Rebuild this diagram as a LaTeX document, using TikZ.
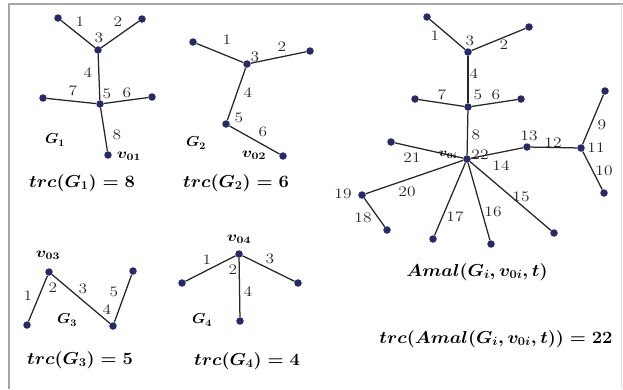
\documentclass[tikz,border=0pt]{standalone}
\usepackage{amsmath}
\definecolor{dotblue}{RGB}{38,42,105}
\newcommand\wx[1]{\scalebox{1.2}[1]{#1}}
\newcommand\wt[1]{\scalebox{1.065}[1]{#1}}
\newcommand\wg[1]{\scalebox{1.05}[1]{#1}}
\begin{document}
\begin{tikzpicture}[x=1pt,y=-1pt,
  vtx/.style={circle,fill=dotblue,inner sep=0pt,minimum size=7.5pt},
  edge/.style={line width=1.25pt,draw=black!85},
  lab/.style={font=\fontsize{14.5}{14.5}\selectfont,inner sep=0pt,text=black!85},
  vname/.style={font=\fontsize{14.4}{14.4}\selectfont\boldmath,inner sep=0pt},
  gname/.style={font=\fontsize{14.4}{14.4}\selectfont\boldmath,inner sep=0pt},
  ttl/.style={font=\fontsize{17.28}{17.28}\selectfont\boldmath,inner sep=0pt}]
\useasboundingbox (0,0) rectangle (623,389);
\fill[white] (0,0) rectangle (623,389);
\draw[gray!70,line width=1.2pt] (9,389) -- (9,4) -- (623,4);
\draw[gray!25,line width=0.8pt] (621,4) -- (621,389);

% ---------- G1 ----------
\node[vtx] (a1) at (58,18) {};
\node[vtx] (a2) at (142,19) {};
\node[vtx] (a3) at (98,50) {};
\node[vtx] (a5) at (100,104) {};
\node[vtx] (a7) at (43,98) {};
\node[vtx] (a6) at (152,97) {};
\node[vtx] (a8) at (108,155) {};
\draw[edge] (a1) -- (a3);
\draw[edge] (a2) -- (a3);
\draw[edge] (a3) -- (a5);
\draw[edge] (a7) -- (a5);
\draw[edge] (a6) -- (a5);
\draw[edge] (a5) -- (a8);
\node[lab] (la1) at (80,22) {\wx{1}};
\node[lab] (la2) at (118,22) {\wx{2}};
\node[lab] (la3) at (99,38) {\wx{3}};
\node[lab] (la4) at (88,73) {\wx{4}};
\node[lab] (la7) at (73,91) {\wx{7}};
\node[lab] (la5) at (107,94) {\wx{5}};
\node[lab] (la6) at (127,93) {\wx{6}};
\node[lab] (la8) at (117,135) {\wx{8}};
\node[gname] (g1) at (55,140) {\wg{$G_1$}};
\node[vname] (v01) at (129,156) {\wx{$v_{01}$}};
\node[ttl] (t1) at (82,183) {\wt{$trc(G_1) = 8$}};

% ---------- G2 ----------
\node[vtx] (b1) at (193,42) {};
\node[vtx] (b3) at (247,64) {};
\node[vtx] (b2) at (310,51) {};
\node[vtx] (b5) at (226,124) {};
\node[vtx] (b6) at (283,156) {};
\draw[edge] (b1) -- (b3);
\draw[edge] (b2) -- (b3);
\draw[edge] (b3) -- (b5);
\draw[edge] (b5) -- (b6);
\node[lab] (lb1) at (227,40) {\wx{1}};
\node[lab] (lb3) at (255,57) {\wx{3}};
\node[lab] (lb2) at (282,47) {\wx{2}};
\node[lab] (lb4) at (248,93) {\wx{4}};
\node[lab] (lb5) at (239,118) {\wx{5}};
\node[lab] (lb6) at (263,132) {\wx{6}};
\node[gname] (g2) at (196,143) {\wg{$G_2$}};
\node[vname] (v02) at (254,155) {\wx{$v_{02}$}};
\node[ttl] (t2) at (236,183) {\wt{$trc(G_2) = 6$}};

% ---------- G3 ----------
\node[vtx] (c2) at (49,272) {};
\node[vtx] (c1) at (27,325) {};
\node[vtx] (c4) at (113,326) {};
\node[vtx] (c5) at (133,271) {};
\draw[edge] (c1) -- (c2);
\draw[edge] (c2) -- (c4);
\draw[edge] (c4) -- (c5);
\node[vname] (v03) at (48,255) {\wx{$v_{03}$}};
\node[lab] (lc1) at (28,296) {\wx{1}};
\node[lab] (lc2) at (53,288) {\wx{2}};
\node[lab] (lc3) at (83,289) {\wx{3}};
\node[lab] (lc5) at (114,292) {\wx{5}};
\node[lab] (lc4) at (107,310) {\wx{4}};
\node[gname] (g3) at (67,320) {\wg{$G_3$}};
\node[ttl] (t3) at (80,360) {\wt{$trc(G_3) = 5$}};

% ---------- G4 ----------
\node[vtx] (d2) at (239,254) {};
\node[vtx] (d1) at (182,283) {};
\node[vtx] (d3) at (298,283) {};
\node[vtx] (d4) at (240,321) {};
\draw[edge] (d1) -- (d2);
\draw[edge] (d3) -- (d2);
\draw[edge] (d2) -- (d4);
\node[vname] (v04) at (239,239) {\wx{$v_{04}$}};
\node[lab] (ld1) at (207,260) {\wx{1}};
\node[lab] (ld2) at (233,270) {\wx{2}};
\node[lab] (ld3) at (270,259) {\wx{3}};
\node[lab] (ld4) at (248,292) {\wx{4}};
\node[gname] (g4) at (202,320) {\wg{$G_4$}};
\node[ttl] (t4) at (247,361) {\wt{$trc(G_4) = 4$}};

% ---------- Amal ----------
\node[vtx] (e1) at (427,17) {};
\node[vtx] (e3) at (468,52) {};
\node[vtx] (e2) at (529,27) {};
\node[vtx] (e5) at (468,107) {};
\node[vtx] (e7) at (415,99) {};
\node[vtx] (e6) at (521,99) {};
\node[vtx] (e0) at (467,159) {};
\node[vtx] (e21) at (391,142) {};
\node[vtx] (e13) at (527,147) {};
\node[vtx] (e11) at (581,148) {};
\node[vtx] (e9) at (605,91) {};
\node[vtx] (e10) at (604,193) {};
\node[vtx] (e19) at (362,195) {};
\node[vtx] (e18) at (387,230) {};
\node[vtx] (e17) at (433,239) {};
\node[vtx] (e16) at (491,244) {};
\node[vtx] (e15) at (554,233) {};
\draw[edge] (e1) -- (e3);
\draw[edge] (e2) -- (e3);
\draw[edge] (e3) -- (e5);
\draw[edge] (e7) -- (e5);
\draw[edge] (e6) -- (e5);
\draw[edge] (e5) -- (e0);
\draw[edge] (e21) -- (e0);
\draw[edge] (e13) -- (e0);
\draw[edge] (e13) -- (e11);
\draw[edge] (e9) -- (e11);
\draw[edge] (e10) -- (e11);
\draw[edge] (e19) -- (e0);
\draw[edge] (e19) -- (e18);
\draw[edge] (e17) -- (e0);
\draw[edge] (e16) -- (e0);
\draw[edge] (e15) -- (e0);
\node[lab] (le1) at (435,36) {\wx{1}};
\node[lab] (le3) at (470,41) {\wx{3}};
\node[lab] (le2) at (504,45) {\wx{2}};
\node[lab] (le4) at (474,74) {\wx{4}};
\node[lab] (le7) at (442,95) {\wx{7}};
\node[lab] (le5) at (478,95) {\wx{5}};
\node[lab] (le6) at (496,95) {\wx{6}};
\node[lab] (le8) at (476,135) {\wx{8}};
\node[lab] (le13) at (529,136) {\wx{13}};
\node[lab] (le12) at (553,143) {\wx{12}};
\node[lab] (le9) at (602,125) {\wx{9}};
\node[lab] (le11) at (596,148) {\wx{11}};
\node[lab] (le10) at (604,171) {\wx{10}};
\node[lab] (le21) at (412,158) {\wx{21}};
\node[vname,font=\fontsize{12}{12}\selectfont\boldmath] (v0i) at (448,155) {\wx{$v_{0i}$}};
\node[lab] (le22) at (480,155) {\wx{22}};
\node[lab] (le14) at (501,166) {\wx{14}};
\node[lab] (le20) at (407,192) {\wx{20}};
\node[lab] (le19) at (343,194) {\wx{19}};
\node[lab] (le15) at (521,197) {\wx{15}};
\node[lab] (le18) at (363,218) {\wx{18}};
\node[lab] (le17) at (455,217) {\wx{17}};
\node[lab] (le16) at (493,212) {\wx{16}};
\node[ttl] (am) at (477,272) {\wt{$Amal(G_i, v_{0i}, t)$}};
\node[ttl] (t5) at (496,339) {\wt{$trc(Amal(G_i, v_{0i}, t)) = 22$}};
\end{tikzpicture}
\end{document}
